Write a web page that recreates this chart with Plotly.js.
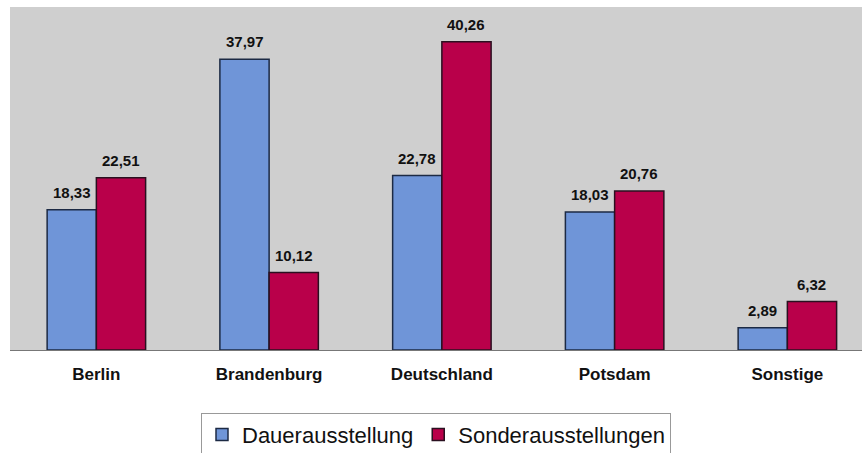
<!DOCTYPE html>
<html>
<head>
<meta charset="utf-8">
<script src="https://cdn.plot.ly/plotly-3.0.1.min.js"></script>
<style>html,body{margin:0;padding:0;background:#fff;overflow:hidden;}</style>
</head>
<body>
<div id="chart" style="width:862px;height:453px;"></div>
<script>
const categories = ["Berlin", "Brandenburg", "Deutschland", "Potsdam", "Sonstige"];
const dauer = [18.33, 37.97, 22.78, 18.03, 2.89];
const sonder = [22.51, 10.12, 40.26, 20.76, 6.32];
const seriesNames = ["Dauerausstellung", "Sonderausstellungen"];

const fontFam = "Liberation Sans, Arial, sans-serif";
const common = {
  type: "bar",
  x: categories,
  textposition: "none",
  hoverinfo: "none"
};
const data = [
  Object.assign({}, common, {y: dauer, name: seriesNames[0],
    marker: {color: "#6f95d8", line: {color: "#1c2a44", width: 1.5}}}),
  Object.assign({}, common, {y: sonder, name: seriesNames[1],
    marker: {color: "#b9004a", line: {color: "#2a1020", width: 1.5}}})
];

function fmt(v) { return v.toFixed(2).replace(".", ","); }
const annotations = [];
[dauer, sonder].forEach((vals, si) => {
  vals.forEach((v, i) => {
    annotations.push({
      x: categories[i], y: v, xref: "x", yref: "y",
      text: fmt(v), showarrow: false,
      xanchor: "center", yanchor: "bottom",
      xshift: si === 0 ? -24.6 : 24.6, yshift: 7,
      font: {family: fontFam, size: 15, color: "#111", weight: "bold"}
    });
  });
});

const layout = {
  width: 862, height: 453,
  margin: {l: 10, r: 0, t: 7, b: 103, autoexpand: false},
  paper_bgcolor: "#ffffff",
  plot_bgcolor: "#cfcfcf",
  barmode: "group",
  bargap: 0.43,
  bargroupgap: 0,
  showlegend: true,
  annotations: annotations,
  xaxis: {
    type: "category",
    range: [-0.5, 4.432],
    automargin: false,
    showline: true, linecolor: "#777", linewidth: 1,
    ticks: "", showgrid: false,
    ticklabelstandoff: 9,
    tickfont: {family: fontFam, size: 17, color: "#111", weight: "bold"},
    fixedrange: true
  },
  yaxis: {
    range: [0, 44.8],
    automargin: false,
    showticklabels: false, showgrid: false, zeroline: false, ticks: "",
    fixedrange: true
  },
  legend: {
    orientation: "h",
    x: 0.5, xanchor: "center",
    y: -0.183, yanchor: "top",
    bgcolor: "#ffffff",
    bordercolor: "#999",
    borderwidth: 1,
    font: {family: fontFam, size: 22, color: "#111"},
    itemwidth: 30
  }
};
Plotly.newPlot("chart", data, layout, {staticPlot: true, displayModeBar: false});
</script>
</body>
</html>
